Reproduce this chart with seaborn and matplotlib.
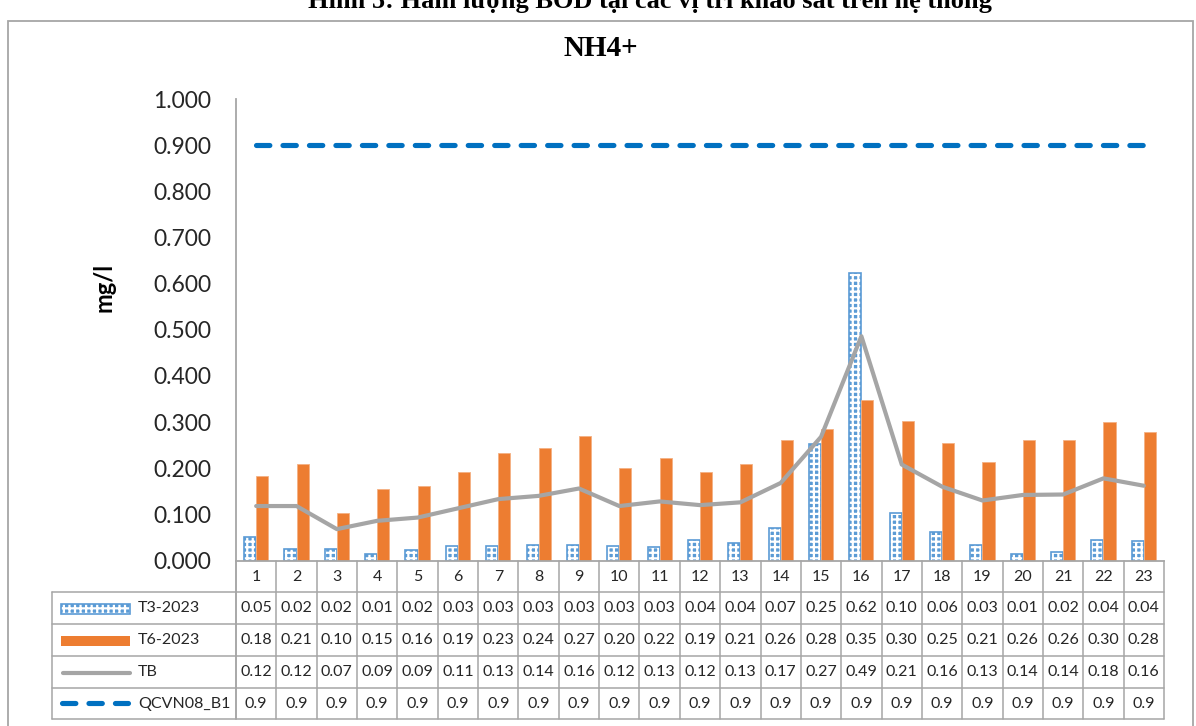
import numpy as np
import pandas as pd
import matplotlib
matplotlib.use("Agg")
import matplotlib.pyplot as plt
import matplotlib.transforms as mtransforms
from matplotlib.patches import Rectangle
from matplotlib.lines import Line2D
import seaborn as sns

# ---------------- data ----------------
categories = [str(i) for i in range(1, 24)]
t3_2023 = [0.052, 0.024, 0.024, 0.014, 0.022, 0.032, 0.032, 0.033, 0.034, 0.032, 0.030, 0.044,
           0.039, 0.070, 0.252, 0.623, 0.104, 0.062, 0.034, 0.014, 0.019, 0.044, 0.043]
t6_2023 = [0.184, 0.210, 0.104, 0.154, 0.162, 0.192, 0.232, 0.244, 0.270, 0.200, 0.222, 0.192,
           0.210, 0.262, 0.284, 0.348, 0.302, 0.254, 0.214, 0.262, 0.262, 0.300, 0.278]
tb = [0.118, 0.118, 0.068, 0.086, 0.093, 0.113, 0.133, 0.140, 0.156, 0.118, 0.128, 0.120,
      0.126, 0.168, 0.268, 0.486, 0.208, 0.160, 0.130, 0.142, 0.143, 0.178, 0.162]
qcvn08_b1 = [0.9] * 23
series_names = ["T3-2023", "T6-2023", "TB", "QCVN08_B1"]
y_ticks = [0.0, 0.1, 0.2, 0.3, 0.4, 0.5, 0.6, 0.7, 0.8, 0.9, 1.0]
title = "NH4+"
y_label = "mg/l"
caption = "Hình 5: Hàm lượng BOD tại các vị trí khảo sát trên hệ thống"

# ---------------- style ----------------
BLUE = "#5B9BD5"
ORANGE = "#ED7D31"
GRAY = "#A5A5A5"
DBLUE = "#0070C0"
LINE = "#A6A6A6"
TXT = "#262626"

sns.set_theme(style="white")
plt.rcParams["font.family"] = ["Lato", "DejaVu Sans"]
plt.rcParams["hatch.linewidth"] = 1.6

W, H = 1196, 726
fig = plt.figure(figsize=(W / 100, H / 100), dpi=100)
fig.patch.set_facecolor("white")


def fx(px):
    return px / W


def fy(py):
    return 1 - py / H


AX_L, AX_R, AX_T, AX_B = 236, 1164, 99, 560.5
ax = fig.add_axes([fx(AX_L), fy(AX_B), fx(AX_R - AX_L), (AX_B - AX_T) / H])
ax.set_facecolor("white")

df = pd.DataFrame({
    "cat": categories * 2,
    "value": t3_2023 + t6_2023,
    "series": [series_names[0]] * len(categories) + [series_names[1]] * len(categories),
})
sns.barplot(data=df, x="cat", y="value", hue="series", order=categories,
            hue_order=series_names[:2], palette=[BLUE, ORANGE], saturation=1,
            width=0.6, dodge=True, ax=ax, legend=False, linewidth=0)


def style_checker(p):
    p.set_edgecolor(BLUE)
    p.set_linewidth(1.2)
    p.set_hatch("+++")
    p._hatch_color = (1, 1, 1, 1)


for p in ax.containers[0]:
    style_checker(p)
for p in ax.containers[1]:
    p.set_edgecolor("#F4B183")
    p.set_linewidth(0.6)

positions = np.arange(len(categories))
sns.lineplot(x=positions, y=tb, color=GRAY, linewidth=3.0, ax=ax, sort=False,
             solid_capstyle="round", solid_joinstyle="round")
sns.lineplot(x=positions, y=qcvn08_b1, color=DBLUE, linewidth=3.7, ax=ax, sort=False,
             linestyle=(0, (2.6, 2.55)), dash_capstyle="round")

ax.set_xlim(-0.5, len(categories) - 0.5)
ax.set_ylim(0, 1.0)
ax.set_yticks(y_ticks)
ax.set_yticklabels([f"{v:.3f}" for v in y_ticks])
ax.set_xticks([])
ax.set_xlabel("")
ax.set_ylabel("")
ax.tick_params(axis="y", length=0, pad=18, labelsize=16.5, labelcolor=TXT)
for s in ["top", "right"]:
    ax.spines[s].set_visible(False)
for s in ["left", "bottom"]:
    ax.spines[s].set_color(LINE)
    ax.spines[s].set_linewidth(1.3)
ax.grid(False)

# ---------------- title / labels ----------------
fig.text(fx(650), fy(8), caption, ha="center", va="baseline",
         family=["Liberation Serif", "DejaVu Serif"], weight="bold", size=19, color="black")
fig.text(fx(601), fy(48), title, ha="center", va="center",
         family=["Liberation Serif", "DejaVu Serif"], weight="bold", size=21, color="black")
fig.text(fx(104), fy(287), y_label, ha="center", va="center", rotation=90,
         weight="bold", size=17, color="black")

# outer chart border
fig.add_artist(Rectangle((fx(7.5), fy(740)), fx(1193 - 7.5), (740 - 20.5) / H,
                         fill=False, edgecolor=LINE, linewidth=1.3,
                         transform=fig.transFigure))

# ---------------- data table ----------------
trans = mtransforms.blended_transform_factory(ax.transData, fig.transFigure)
row_lines = [592.3, 624, 656, 688, 719]
TBL_L = 52
for i in range(len(categories) + 1):
    fig.add_artist(Line2D([i - 0.5, i - 0.5], [fy(AX_B), fy(719)], color=LINE,
                          linewidth=1.1, transform=trans))
for yl in row_lines:
    fig.add_artist(Line2D([fx(TBL_L), fx(AX_R)], [fy(yl), fy(yl)], color=LINE,
                          linewidth=1.1, transform=fig.transFigure))
fig.add_artist(Line2D([fx(TBL_L), fx(TBL_L)], [fy(592.3), fy(719)], color=LINE,
                      linewidth=1.1, transform=fig.transFigure))
fig.add_artist(Line2D([fx(AX_L), fx(AX_L)], [fy(AX_B), fy(719)], color=LINE,
                      linewidth=1.1, transform=fig.transFigure))

TSIZE = 11.5
for i, c in enumerate(categories):
    fig.text(i, fy(577), c, transform=trans, ha="center", va="center", size=TSIZE, color=TXT)

row_centers = [608.5, 640.5, 672.5, 704]
row_values = [t3_2023, t6_2023, tb, qcvn08_b1]
row_fmt = ["{:.2f}", "{:.2f}", "{:.2f}", "{:.1f}"]
for yc, vals, fmt in zip(row_centers, row_values, row_fmt):
    for i, v in enumerate(vals):
        fig.text(i, fy(yc), fmt.format(v), transform=trans, ha="center", va="center",
                 size=TSIZE, color=TXT)

# legend keys in the table
SW_L, SW_R = 61, 130
sw = Rectangle((fx(SW_L), fy(row_centers[0] + 5)), fx(SW_R - SW_L), 10 / H,
               facecolor=BLUE, transform=fig.transFigure)
style_checker(sw)
fig.add_artist(sw)
fig.add_artist(Rectangle((fx(SW_L), fy(row_centers[1] + 5)), fx(SW_R - SW_L), 10 / H,
                         facecolor=ORANGE, edgecolor="none", transform=fig.transFigure))
fig.add_artist(Line2D([fx(SW_L + 2), fx(SW_R)], [fy(row_centers[2])] * 2, color=GRAY,
                      linewidth=3.0, solid_capstyle="round", transform=fig.transFigure))
fig.add_artist(Line2D([fx(SW_L + 1), fx(SW_R - 2)], [fy(row_centers[3] - 1)] * 2, color=DBLUE,
                      linewidth=3.7, linestyle=(0, (2.6, 2.55)), dash_capstyle="round",
                      transform=fig.transFigure))
for yc, name in zip(row_centers, series_names):
    fig.text(fx(138), fy(yc), name, ha="left", va="center", size=TSIZE, color=TXT)

fig.savefig("out.png", dpi=100, facecolor="white")
